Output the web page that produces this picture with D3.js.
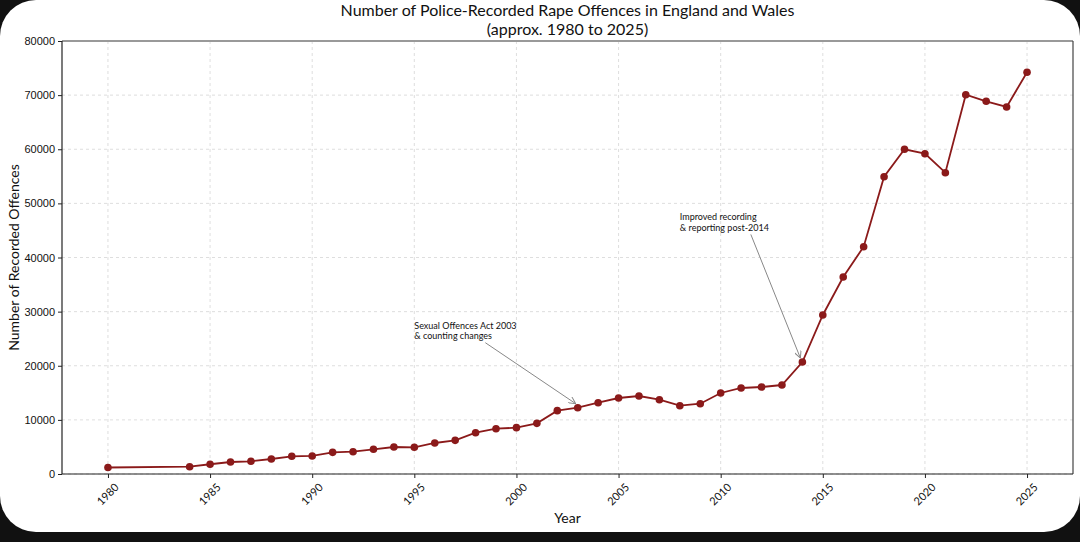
<!DOCTYPE html>
<html>
<head>
<meta charset="utf-8">
<script src="https://cdn.jsdelivr.net/npm/d3@7"></script>
<style>
    body {margin:0; background:#111;}
    .title {font-family:Lato, sans-serif; font-size:16px; fill:#111;}
    .label {font-family:Lato, sans-serif; font-size:14px; fill:#111;}
    .ytick text {font-family:"Liberation Sans", sans-serif; font-size:11px; fill:#111;}
    .xtick text {font-family:Lato, sans-serif; font-size:11px; fill:#111;}
    .note {font-family:Lato, sans-serif; font-size:9px; fill:#111;}
</style>
</head>
<body>
<svg id="chart"></svg>
<script>

var years = [1980,1984,1985,1986,1987,1988,1989,1990,1991,1992,1993,1994,1995,1996,1997,1998,1999,
             2000,2001,2002,2003,2004,2005,2006,2007,2008,2009,2010,2011,2012,2013,2014,2015,2016,
             2017,2018,2019,2020,2021,2022,2023,2024,2025];
var offences = [1200,1350,1800,2220,2350,2770,3270,3330,4000,4120,4560,4990,4930,5730,6220,7630,8370,
                8560,9360,11700,12250,13170,14040,14410,13730,12620,12990,14970,15890,16070,16440,20690,29380,36400,
                42000,54930,60000,59180,55670,70080,68860,67810,74220];

var xTicks = [1980,1985,1990,1995,2000,2005,2010,2015,2020,2025];
var yTicks = [0,10000,20000,30000,40000,50000,60000,70000,80000];

var noteYears = [2003,2014];
var noteTextAt = [[1995,25000],[2008,45000]];
var noteLines = [["Sexual Offences Act 2003","& counting changes"],
                 ["Improved recording","& reporting post-2014"]];

var titleLines = ["Number of Police-Recorded Rape Offences in England and Wales","(approx. 1980 to 2025)"];

var screen = {width:1080,height:542}
var margins = {left:62,right:7,top:41,bottom:68}
var graph = {
    width:screen.width-margins.left-margins.right,
    height:screen.height-margins.top-margins.bottom
}

var svg = d3.select("#chart")
    .attr("width",screen.width)
    .attr("height",screen.height)

//white card on black background
svg.append("rect")
    .attr("width",screen.width)
    .attr("height",532)
    .attr("rx",36)
    .attr("fill","white")

var xScale = d3.scaleLinear()
    .domain([1977.75,2027.25])
    .range([0,graph.width])
var yScale = d3.scaleLinear()
    .domain([0,80000])
    .range([graph.height,0])

var plot = svg.append("g")
    .attr("transform","translate("+margins.left+","+margins.top+")")

//grid
plot.append("g")
    .selectAll("line")
    .data(xTicks)
    .enter()
    .append("line")
    .attr("x1",function(d){return xScale(d)})
    .attr("x2",function(d){return xScale(d)})
    .attr("y1",0)
    .attr("y2",graph.height)
    .attr("stroke","#d6d6d6")
    .attr("stroke-width",0.8)
    .attr("stroke-dasharray","3,3")
plot.append("g")
    .selectAll("line")
    .data(yTicks)
    .enter()
    .append("line")
    .attr("x1",0)
    .attr("x2",graph.width)
    .attr("y1",function(d){return yScale(d)})
    .attr("y2",function(d){return yScale(d)})
    .attr("stroke","#d6d6d6")
    .attr("stroke-width",0.8)
    .attr("stroke-dasharray","3,3")

//axes
var xAxis = d3.axisBottom(xScale).tickValues(xTicks).tickFormat(d3.format("d")).tickSize(4).tickSizeOuter(0)
var yAxis = d3.axisLeft(yScale).tickValues(yTicks).tickFormat(d3.format("d")).tickSize(4).tickSizeOuter(0)

var gx = plot.append("g")
    .classed("xtick",true)
    .attr("transform","translate(0,"+graph.height+")")
    .call(xAxis)
gx.selectAll("text")
    .attr("text-anchor","middle")
    .attr("dy",null)
    .attr("y",0)
    .attr("transform","translate(0,21) rotate(-45)")
    .attr("dominant-baseline","middle")
var gy = plot.append("g")
    .classed("ytick",true)
    .call(yAxis)
gx.select(".domain").remove()
gy.select(".domain").remove()
gx.selectAll("line").attr("stroke","#222")
gy.selectAll("line").attr("stroke","#222")

//spines
plot.append("line").attr("x1",0).attr("x2",graph.width).attr("y1",0).attr("y2",0)
    .attr("stroke","#999").attr("stroke-width",2)
plot.append("line").attr("x1",graph.width).attr("x2",graph.width).attr("y1",0).attr("y2",graph.height)
    .attr("stroke","#444").attr("stroke-width",1.2)
plot.append("line").attr("x1",0).attr("x2",0).attr("y1",0).attr("y2",graph.height)
    .attr("stroke","#222").attr("stroke-width",1.2)
plot.append("line").attr("x1",0).attr("x2",graph.width).attr("y1",graph.height).attr("y2",graph.height)
    .attr("stroke","#222").attr("stroke-width",1.2)

//line and points
var series = years.map(function(y,i){return {year:y,value:offences[i]}})
var line = d3.line()
    .x(function(d){return xScale(d.year)})
    .y(function(d){return yScale(d.value)})
plot.append("path")
    .datum(series)
    .attr("fill","none")
    .attr("stroke","#8b1a1a")
    .attr("stroke-width",1.8)
    .attr("d",line)
plot.selectAll("circle")
    .data(series)
    .enter()
    .append("circle")
    .attr("cx",function(d){return xScale(d.year)})
    .attr("cy",function(d){return yScale(d.value)})
    .attr("r",3.8)
    .attr("fill","#8b1a1a")

//annotations
svg.append("defs").append("marker")
    .attr("id","arrow")
    .attr("viewBox","0 0 10 10")
    .attr("refX",10).attr("refY",5)
    .attr("markerWidth",7).attr("markerHeight",7)
    .attr("orient","auto")
    .append("path")
    .attr("d","M0,0 L10,5 L0,10")
    .attr("fill","none")
    .attr("stroke","#888")
    .attr("stroke-width",1.4)

noteYears.forEach(function(yr,i){
    var target = series.filter(function(d){return d.year==yr})[0]
    var tx = xScale(noteTextAt[i][0])
    var ty = yScale(noteTextAt[i][1])
    var t = plot.append("text").classed("note",true)
    noteLines[i].forEach(function(s,j){
        t.append("tspan").attr("x",tx).attr("y",ty-10+j*10.5).text(s)
    })
    plot.append("line")
        .attr("x1",tx+71).attr("y1",ty+4)
        .attr("x2",xScale(target.year)-2).attr("y2",yScale(target.value)-4)
        .attr("stroke","#888")
        .attr("stroke-width",1)
        .attr("marker-end","url(#arrow)")
})

//labels
var labels = svg.append("g")
titleLines.forEach(function(s,i){
    labels.append("text")
        .text(s)
        .classed("title",true)
        .attr("text-anchor","middle")
        .attr("x",margins.left+graph.width/2)
        .attr("y",16+i*19)
})
labels.append("text")
    .text("Year")
    .classed("label",true)
    .attr("text-anchor","middle")
    .attr("x",margins.left+graph.width/2)
    .attr("y",523)
labels.append("text")
    .text("Number of Recorded Offences")
    .classed("label",true)
    .attr("text-anchor","middle")
    .attr("transform","translate(19,"+(margins.top+graph.height/2)+") rotate(-90)")

</script>
</body>
</html>
